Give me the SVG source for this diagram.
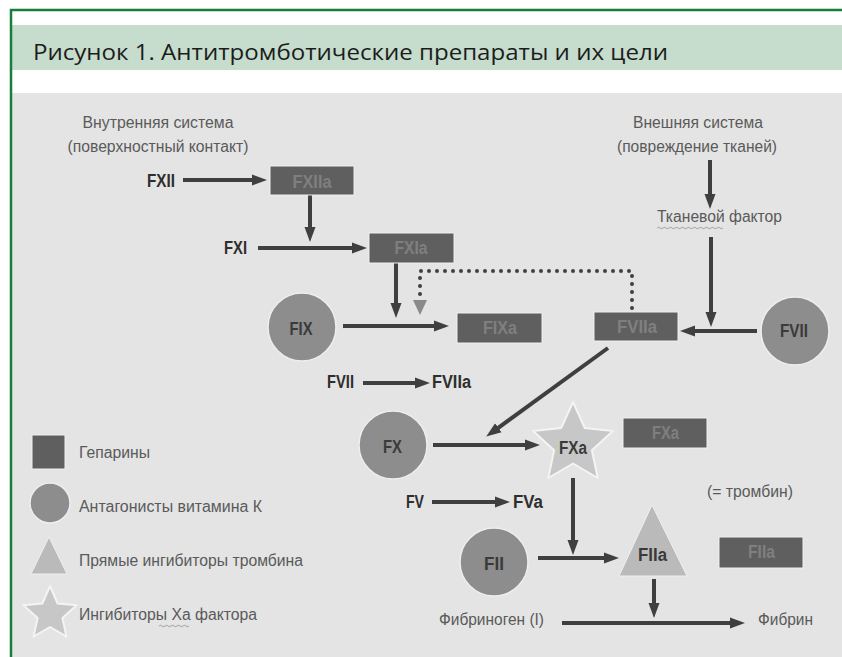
<svg xmlns="http://www.w3.org/2000/svg" width="842" height="657" viewBox="0 0 842 657">
<defs>
<style>
.frame{fill:none;stroke:#16803a;stroke-width:2.5}
.band{fill:#c6dccc}
.title{font-family:"Open Sans","Noto Sans","Liberation Sans",sans-serif;font-size:21px;fill:#1c1c1c}
.bg{fill:#e4e4e4}
.box{fill:#5f5f5f;stroke:#efefef;stroke-width:1}
.boxt{font-family:"Liberation Sans Narrow","Liberation Sans",Arial,sans-serif;font-size:18px;font-weight:bold;fill:#7f7f7f;text-anchor:middle}
.circ{fill:#8d8d8d;stroke:#eeeeee;stroke-width:1.5}
.star{fill:#c7c7c7;stroke:#f4f4f4;stroke-width:2;stroke-linejoin:round}
.tri{fill:#bababa;stroke:#efefef;stroke-width:1}
.dt{font-family:"Liberation Sans Narrow","Liberation Sans",Arial,sans-serif;font-size:18px;font-weight:bold;fill:#3a3a3a;text-anchor:middle}
.lb{font-family:"Liberation Sans Narrow","Liberation Sans",Arial,sans-serif;font-size:18px;font-weight:bold;fill:#2e2e2e}
.gt{font-family:"Liberation Sans",Arial,sans-serif;font-size:16px;fill:#5a5a5a}
.gtc{font-family:"Liberation Sans",Arial,sans-serif;font-size:16px;fill:#5a5a5a;text-anchor:middle}
.ar{fill:none;stroke:#3f3f3f;stroke-width:4;marker-end:url(#ah)}
.dot{fill:none;stroke:#3f3f3f;stroke-width:4;stroke-linecap:round;stroke-dasharray:0 8}
.wavy{fill:none;stroke:#a0a0a0;stroke-width:1}
</style>
<marker id="ah" markerUnits="userSpaceOnUse" markerWidth="16" markerHeight="12" refX="6" refY="6" orient="auto">
<path d="M0,0.5 L15,6 L0,11.5 Z" fill="#3f3f3f"/>
</marker>
</defs>

<rect x="0" y="0" width="842" height="657" fill="#ffffff"/>
<rect class="band" x="12" y="25" width="830" height="45"/>
<rect class="bg" x="12" y="93" width="830" height="564"/>
<path class="frame" d="M11,657 V10 H842"/>
<text class="title" x="33" y="60" textLength="635" lengthAdjust="spacingAndGlyphs">Рисунок 1. Антитромботические препараты и их цели</text>

<g id="headers">
<text class="gtc" x="158" y="128" textLength="151" lengthAdjust="spacingAndGlyphs">Внутренняя система</text>
<text class="gtc" x="158" y="152" textLength="181" lengthAdjust="spacingAndGlyphs">(поверхностный контакт)</text>
<text class="gtc" x="698" y="128" textLength="130" lengthAdjust="spacingAndGlyphs">Внешняя система</text>
<text class="gtc" x="697" y="152" textLength="160" lengthAdjust="spacingAndGlyphs">(повреждение тканей)</text>
</g>

<g id="connectors">
<path class="ar" d="M183,180 H258"/>
<path class="ar" d="M310,195 V233"/>
<path class="ar" d="M258,248 H358"/>
<path class="ar" d="M396,263 V309"/>
<path class="dot" d="M632,308 V271 H420 V296"/>
<polygon points="413,300 427,300 420,315" fill="#8a8a8a"/>
<path class="ar" d="M343,326 H440"/>
<path class="ar" d="M757,331 H689"/>
<path class="ar" d="M710,160 V200"/>
<path class="ar" d="M711,237 V318"/>
<path class="ar" d="M608,348 L493.5,431.3"/>
<path class="ar" d="M363,383 H421"/>
<path class="ar" d="M433,445 H531"/>
<path class="ar" d="M432,502 H501"/>
<path class="ar" d="M573,478 V546"/>
<path class="ar" d="M538,558 H610"/>
<path class="ar" d="M654,579 V609"/>
<path class="ar" d="M562,623 H736"/>
</g>

<g id="FXII"><text class="lb" x="147" y="187" textLength="28" lengthAdjust="spacingAndGlyphs">FXII</text></g>
<g id="FXIIa"><rect class="box" x="270" y="166" width="84" height="29"/><text class="boxt" x="312" y="188" textLength="39" lengthAdjust="spacingAndGlyphs">FXIIa</text></g>
<g id="FXI"><text class="lb" x="224" y="254" textLength="23" lengthAdjust="spacingAndGlyphs">FXI</text></g>
<g id="FXIa"><rect class="box" x="369" y="233" width="85" height="30"/><text class="boxt" x="411" y="254" textLength="33" lengthAdjust="spacingAndGlyphs">FXIa</text></g>
<g id="FIX"><circle class="circ" cx="302" cy="327" r="34"/><text class="dt" x="301" y="335" textLength="23" lengthAdjust="spacingAndGlyphs">FIX</text></g>
<g id="FIXa"><rect class="box" x="457" y="313" width="85" height="30"/><text class="boxt" x="500" y="334" textLength="34" lengthAdjust="spacingAndGlyphs">FIXa</text></g>
<g id="FVIIa"><rect class="box" x="594" y="312" width="84" height="29"/><text class="boxt" x="637" y="333" textLength="40" lengthAdjust="spacingAndGlyphs">FVIIa</text></g>
<g id="FVII"><circle class="circ" cx="795" cy="331" r="34"/><text class="dt" x="794" y="337" textLength="28" lengthAdjust="spacingAndGlyphs">FVII</text></g>
<g id="tissue-factor"><text class="gt" x="657" y="222" textLength="125" lengthAdjust="spacingAndGlyphs">Тканевой фактор</text>
<path class="wavy" d="M657,228 q1.5,-1.5 3,0 t3,0 t3,0 t3,0 t3,0 t3,0 t3,0 t3,0 t3,0 t3,0 t3,0 t3,0 t3,0 t3,0 t3,0 t3,0 t3,0 t3,0 t3,0 t3,0 t3,0 t3,0"/></g>
<g id="FVII-left"><text class="lb" x="327" y="388" textLength="27" lengthAdjust="spacingAndGlyphs">FVII</text></g>
<g id="FVIIa-left"><text class="lb" x="432" y="388" textLength="39" lengthAdjust="spacingAndGlyphs">FVIIa</text></g>
<g id="FX"><circle class="circ" cx="393" cy="445" r="34"/><text class="dt" x="392.5" y="453" textLength="19" lengthAdjust="spacingAndGlyphs">FX</text></g>
<g id="FXa-star"><polygon class="star" points="573,402 584.8,428 612.9,431 591.9,450.2 597.7,478 573,463.5 548.3,478 554.1,450.2 533.1,431 561.2,428"/><text class="dt" x="573" y="454" textLength="28" lengthAdjust="spacingAndGlyphs">FXa</text></g>
<g id="FXa-box"><rect class="box" x="623" y="418" width="84" height="30"/><text class="boxt" x="665.5" y="439" textLength="27" lengthAdjust="spacingAndGlyphs">FXa</text></g>
<g id="FV"><text class="lb" x="406" y="508" textLength="18" lengthAdjust="spacingAndGlyphs">FV</text></g>
<g id="FVa"><text class="lb" x="513" y="508" textLength="30" lengthAdjust="spacingAndGlyphs">FVa</text></g>
<g id="thrombin-note"><text class="gt" x="707" y="497" textLength="86" lengthAdjust="spacingAndGlyphs">(= тромбин)</text></g>
<g id="FII"><circle class="circ" cx="494" cy="562" r="34"/><text class="dt" x="494" y="570" textLength="20" lengthAdjust="spacingAndGlyphs">FII</text></g>
<g id="FIIa-tri"><polygon class="tri" points="652,505 619,576 687,576"/><text class="dt" x="652.5" y="561" textLength="29" lengthAdjust="spacingAndGlyphs">FIIa</text></g>
<g id="FIIa-box"><rect class="box" x="719" y="537" width="84" height="31"/><text class="boxt" x="761.5" y="558" textLength="27" lengthAdjust="spacingAndGlyphs">FIIa</text></g>
<g id="fibrinogen"><text class="gt" x="439" y="625" textLength="105" lengthAdjust="spacingAndGlyphs">Фибриноген (I)</text></g>
<g id="fibrin"><text class="gt" x="758" y="625" textLength="55" lengthAdjust="spacingAndGlyphs">Фибрин</text></g>

<g id="legend">
<rect class="box" x="32" y="435" width="33" height="34"/>
<text class="gt" x="79" y="458" textLength="71" lengthAdjust="spacingAndGlyphs">Гепарины</text>
<circle class="circ" cx="50" cy="503" r="20"/>
<text class="gt" x="79" y="512" textLength="183" lengthAdjust="spacingAndGlyphs">Антагонисты витамина К</text>
<polygon class="tri" points="49,537 31,574 67,574"/>
<text class="gt" x="79" y="566" textLength="224" lengthAdjust="spacingAndGlyphs">Прямые ингибиторы тромбина</text>
<polygon class="star" points="50,586 57.6,603.5 76.6,605.3 62.4,618 66.5,636.7 50,627 33.5,636.7 37.6,618 23.4,605.3 42.4,603.5"/>
<text class="gt" x="79" y="620" textLength="178" lengthAdjust="spacingAndGlyphs">Ингибиторы Ха фактора</text>
<path class="wavy" d="M159,626 q1.5,-1.5 3,0 t3,0 t3,0 t3,0 t3,0 t3,0 t3,0 t3,0 t3,0 t3,0"/>
</g>
</svg>
